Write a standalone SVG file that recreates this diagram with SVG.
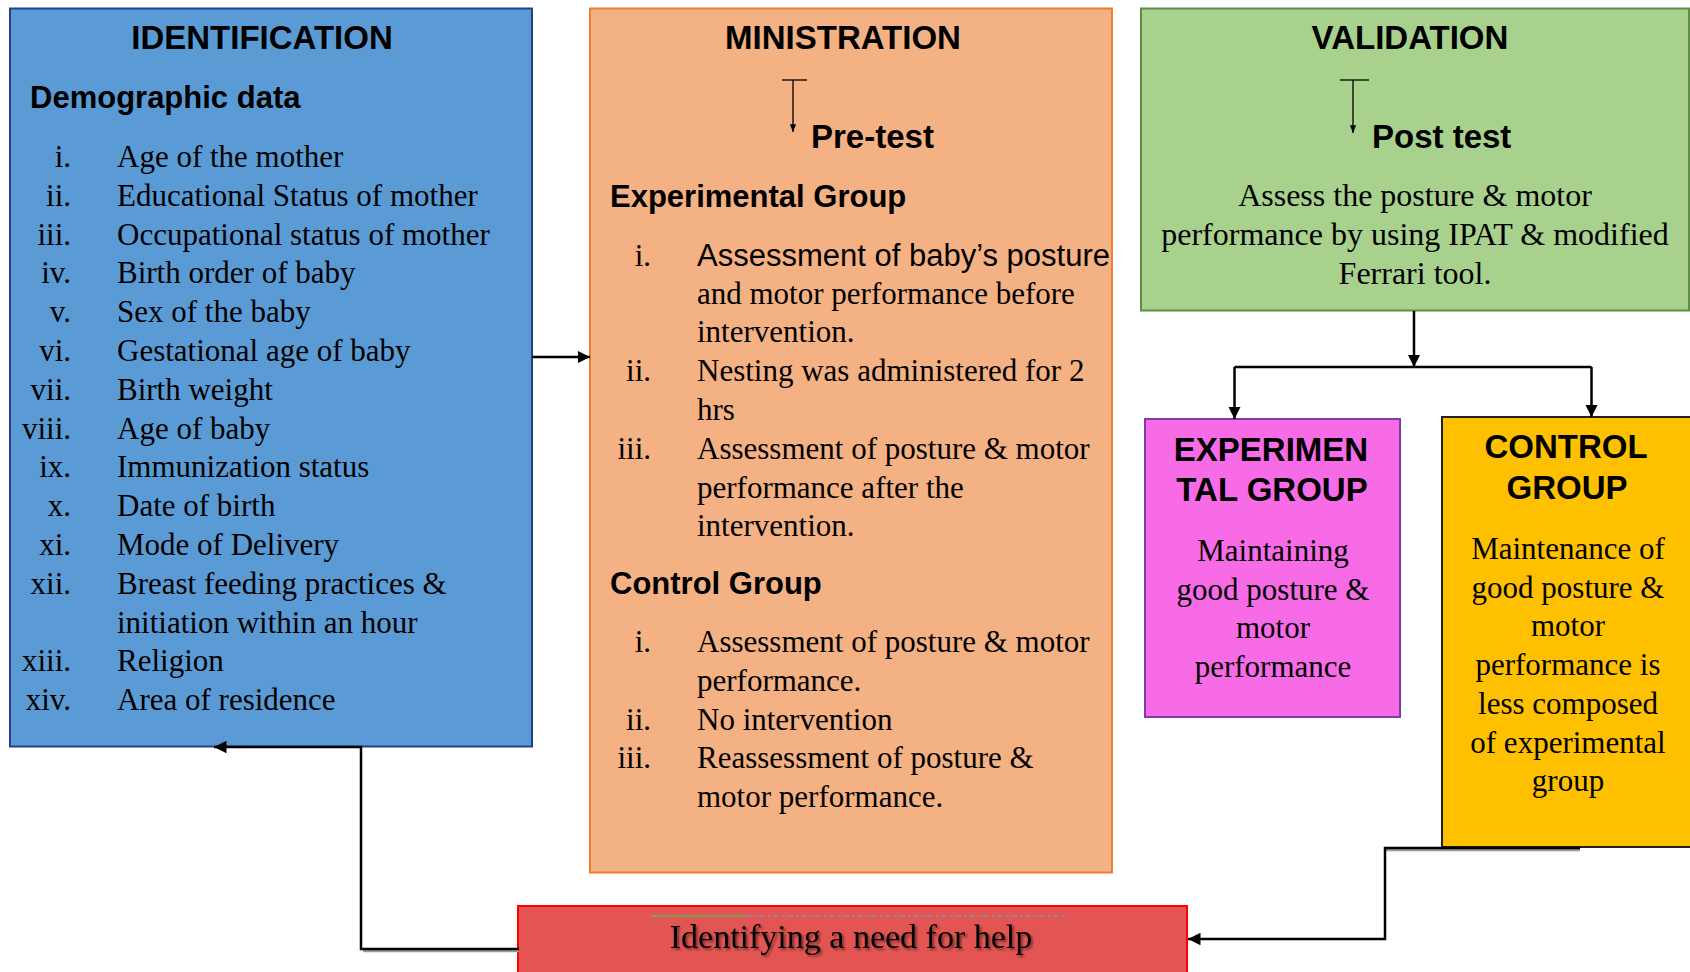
<svg xmlns="http://www.w3.org/2000/svg" width="1690" height="972" viewBox="0 0 1690 972">
  <style>
    .serif { font-family: "Liberation Serif", "Times New Roman", serif; font-size: 31px; fill: #000; }
    .sans { font-family: "Liberation Sans", Arial, sans-serif; fill: #000; }
    .title { font-family: "Liberation Sans", Arial, sans-serif; font-weight: bold; font-size: 33px; fill: #000; }
    .sub { font-family: "Liberation Sans", Arial, sans-serif; font-weight: bold; font-size: 31px; fill: #000; }
    .num { text-anchor: end; }
    .mid { text-anchor: middle; }
    .wire { fill: none; stroke: #000; stroke-width: 2.5; }
    .wire-shadow { fill: none; stroke: #9a9a9a; stroke-width: 2.5; }
    .thin { fill: none; stroke: #000; stroke-width: 1.3; }
  </style>
  <defs>
    <marker id="head" viewBox="0 0 10 10" refX="10" refY="5" markerWidth="5" markerHeight="5" markerUnits="strokeWidth" orient="auto">
      <path d="M0,0 L10,5 L0,10 Z" fill="#000"/>
    </marker>
    <marker id="headSmall" viewBox="0 0 10 10" refX="10" refY="5" markerWidth="6" markerHeight="6" markerUnits="strokeWidth" orient="auto">
      <path d="M0,1 L10,5 L0,9 Z" fill="#000"/>
    </marker>
    <filter id="textShadow" x="-5%" y="-20%" width="110%" height="160%">
      <feDropShadow dx="2" dy="2" stdDeviation="1" flood-color="#000" flood-opacity="0.45"/>
    </filter>
  </defs>

  <rect width="1690" height="972" fill="#fff"/>

  <!-- Identification -->
  <g id="identification">
    <rect x="10" y="8.5" width="522" height="738" fill="#5B9BD5" stroke="#23418A" stroke-width="2"/>
    <text class="title mid" x="262" y="49">IDENTIFICATION</text>
    <text class="sub" x="30" y="108">Demographic data</text>
    <g class="serif">
      <text class="num" x="71" y="167">i.</text><text x="117" y="167">Age of the mother</text>
      <text class="num" x="71" y="205.8">ii.</text><text x="117" y="205.8">Educational Status of mother</text>
      <text class="num" x="71" y="244.6">iii.</text><text x="117" y="244.6">Occupational status of mother</text>
      <text class="num" x="71" y="283.4">iv.</text><text x="117" y="283.4">Birth order of baby</text>
      <text class="num" x="71" y="322.2">v.</text><text x="117" y="322.2">Sex of the baby</text>
      <text class="num" x="71" y="361">vi.</text><text x="117" y="361">Gestational age of baby</text>
      <text class="num" x="71" y="399.8">vii.</text><text x="117" y="399.8">Birth weight</text>
      <text class="num" x="71" y="438.6">viii.</text><text x="117" y="438.6">Age of baby</text>
      <text class="num" x="71" y="477.4">ix.</text><text x="117" y="477.4">Immunization status</text>
      <text class="num" x="71" y="516.2">x.</text><text x="117" y="516.2">Date of birth</text>
      <text class="num" x="71" y="555">xi.</text><text x="117" y="555">Mode of Delivery</text>
      <text class="num" x="71" y="593.8">xii.</text><text x="117" y="593.8">Breast feeding practices &amp;</text>
      <text x="117" y="632.6">initiation within an hour</text>
      <text class="num" x="71" y="671.4">xiii.</text><text x="117" y="671.4">Religion</text>
      <text class="num" x="71" y="710.2">xiv.</text><text x="117" y="710.2">Area of residence</text>
    </g>
  </g>

  <!-- Ministration -->
  <g id="ministration">
    <rect x="590" y="8.5" width="522" height="864" fill="#F4B183" stroke="#ED7D31" stroke-width="2"/>
    <text class="title mid" x="843" y="49">MINISTRATION</text>
    <line class="thin" x1="782" y1="80" x2="807" y2="80"/>
    <line class="thin" x1="793" y1="80" x2="793" y2="132" marker-end="url(#headSmall)"/>
    <text class="title" x="811" y="148">Pre-test</text>
    <text class="sub" x="610" y="207">Experimental Group</text>
    <g class="serif">
      <text class="num" x="651" y="266">i.</text>
      <text class="sans" x="697" y="266" style="font-size:31px">Assessment of baby’s posture</text>
      <text x="697" y="303.6">and motor performance before</text>
      <text x="697" y="342.4">intervention.</text>
      <text class="num" x="651" y="381.2">ii.</text><text x="697" y="381.2">Nesting was administered for 2</text>
      <text x="697" y="420">hrs</text>
      <text class="num" x="651" y="458.8">iii.</text><text x="697" y="458.8">Assessment of posture &amp; motor</text>
      <text x="697" y="497.6">performance after the</text>
      <text x="697" y="536.4">intervention.</text>
    </g>
    <text class="sub" x="610" y="594">Control Group</text>
    <g class="serif">
      <text class="num" x="651" y="652">i.</text><text x="697" y="652">Assessment of posture &amp; motor</text>
      <text x="697" y="690.8">performance.</text>
      <text class="num" x="651" y="729.6">ii.</text><text x="697" y="729.6">No intervention</text>
      <text class="num" x="651" y="768.4">iii.</text><text x="697" y="768.4">Reassessment of posture &amp;</text>
      <text x="697" y="807.2">motor performance.</text>
    </g>
  </g>

  <!-- Validation -->
  <g id="validation">
    <rect x="1141" y="8.5" width="548" height="302" fill="#A9D18E" stroke="#5E8E45" stroke-width="2"/>
    <text class="title mid" x="1410" y="49">VALIDATION</text>
    <line class="thin" x1="1340" y1="80" x2="1369" y2="80"/>
    <line class="thin" x1="1353" y1="80" x2="1353" y2="133" marker-end="url(#headSmall)"/>
    <text class="title" x="1372" y="148">Post test</text>
    <g class="serif mid" style="font-size:32px">
      <text x="1415" y="206">Assess the posture &amp; motor</text>
      <text x="1415" y="245">performance by using IPAT &amp; modified</text>
      <text x="1415" y="284">Ferrari tool.</text>
    </g>
  </g>

  <!-- Experimental group outcome -->
  <g id="experimental-group">
    <rect x="1145" y="419" width="255" height="298" fill="#F76BE7" stroke="#7A3CA8" stroke-width="2"/>
    <text class="title mid" x="1271" y="461">EXPERIMEN</text>
    <text class="title mid" x="1272" y="501">TAL GROUP</text>
    <g class="serif mid">
      <text x="1273" y="561">Maintaining</text>
      <text x="1273" y="599.5">good posture &amp;</text>
      <text x="1273" y="638">motor</text>
      <text x="1273" y="676.5">performance</text>
    </g>
  </g>

  <!-- Control group outcome -->
  <g id="control-group">
    <rect x="1442" y="417" width="250" height="430" fill="#FFC000" stroke="#222" stroke-width="2"/>
    <text class="title mid" x="1566" y="458">CONTROL</text>
    <text class="title mid" x="1567" y="499">GROUP</text>
    <g class="serif mid">
      <text x="1568" y="559">Maintenance of</text>
      <text x="1568" y="597.7">good posture &amp;</text>
      <text x="1568" y="636.4">motor</text>
      <text x="1568" y="675.1">performance is</text>
      <text x="1568" y="713.8">less composed</text>
      <text x="1568" y="752.5">of experimental</text>
      <text x="1568" y="791.2">group</text>
    </g>
  </g>

  <!-- Need for help -->
  <g id="need-for-help">
    <rect x="518" y="906" width="669" height="80" fill="#E35552" stroke="#FF0000" stroke-width="2"/>
    <line x1="651" y1="916" x2="745" y2="916" stroke="#7BA05B" stroke-width="2"/>
    <line x1="745" y1="916" x2="1068" y2="916" stroke="#A07C9A" stroke-width="2" stroke-dasharray="6 3 3 2"/>
    <text class="serif mid" x="851" y="948" style="font-size:34px" filter="url(#textShadow)">Identifying a need for help</text>
  </g>

  <!-- Connectors -->
  <g id="connectors">
    <path class="wire-shadow" d="M1386,850 L1580,850"/>
    <path class="wire-shadow" d="M519,951 L363,951"/>
    <path class="wire" d="M532,357 L590,357" marker-end="url(#head)"/>
    <path class="wire" d="M1414,311 L1414,367" marker-end="url(#head)"/>
    <path class="wire" d="M1234.5,367 L1591.5,367"/>
    <path class="wire" d="M1234.5,367 L1234.5,419" marker-end="url(#head)"/>
    <path class="wire" d="M1591.5,367 L1591.5,417" marker-end="url(#head)"/>
    <path class="wire" d="M1580,848 L1385,848 L1385,939 L1188,939" marker-end="url(#head)"/>
    <path class="wire" d="M519,949 L361,949 L361,747 L214,747" marker-end="url(#head)"/>
  </g>
</svg>
